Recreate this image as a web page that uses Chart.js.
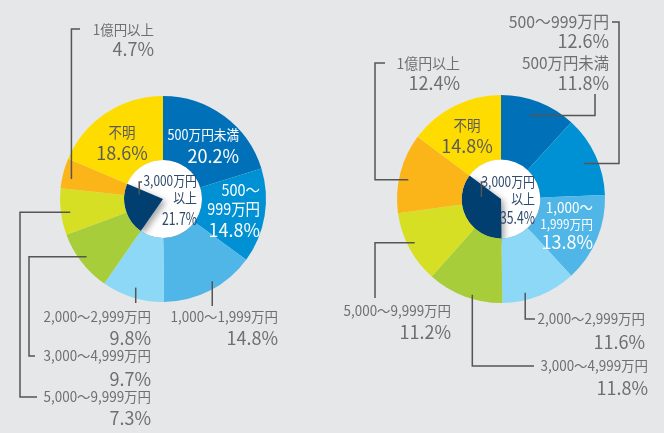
<!DOCTYPE html>
<html lang="ja">
<head>
<meta charset="utf-8">
<script src="https://cdn.jsdelivr.net/npm/chart.js@4"></script>
<style>
  html, body { margin: 0; padding: 0; background: #e6e7e9; }
  .wrap { position: absolute; top: 0; width: 332px; height: 433px; }
  #left { left: 0; }
  #right { left: 332px; }
</style>
</head>
<body>
<div class="wrap" id="left"><canvas id="chartLeft" width="332" height="433"></canvas></div>
<div class="wrap" id="right"><canvas id="chartRight" width="332" height="433"></canvas></div>
<script>
// ---- data ----
const categories = ["500万円未満", "500～999万円", "1,000～1,999万円", "2,000～2,999万円",
                    "3,000～4,999万円", "5,000～9,999万円", "1億円以上", "不明"];
const valuesLeft = [20.2, 14.8, 14.8, 9.8, 9.7, 7.3, 4.7, 18.6];
const valuesRight = [11.8, 12.6, 13.8, 11.6, 11.8, 11.2, 12.4, 14.8];
const over3000Name = ["3,000万円", "以上"];
const over3000Left = 21.7;
const over3000Right = 35.4;
const over3000From = 4; // first category counted in 3,000万円以上

const colors = ["#0071b9", "#0091d5", "#4fb6e7", "#8dd8f6", "#a7cd3a", "#d6df23", "#fbb519", "#ffdc00"];
const navy = "#003f70";
const white = "#ffffff";
const grayText = "#6f6f6f";
const hubText = "#2e4a6c";
const lineColor = "#555555";
const fontFam = '"Noto Sans CJK JP", "Noto Sans", sans-serif';

const pct = v => v.toFixed(1) + "%";

// label layout (positions only; text comes from the arrays above)
const layoutLeft = {
    padding: { left: 60, right: 66, top: 96, bottom: 131 },
    inside: [
        { i: 0, x: 239, align: "right", color: white, lines: [[categories[0], 135, 14]], pctY: 156 },
        { i: 1, x: 260, align: "right", color: white, lines: [["500～", 190, 16], ["999万円", 209, 16]], pctY: 230 },
        { i: 7, x: 122, align: "center", color: "#5b5b5b", lines: [[categories[7], 132, 15]], pctY: 153 }
    ],
    center: { x: 197, ys: [181, 198], pctY: 219, t: 0.84, rf: 0.62, path: [["v", 182], ["h", 142]] },
    outside: [
        { i: 6, x: 154, ys: [30, 49], size: 14, t: 0.37, rf: 0.91, path: [["v", 29], ["h", 80]] },
        { i: 5, x: 151, ys: [397, 418], size: 14, t: 0.46, rf: 0.91, path: [["h", 20], ["v", 397], ["h", 37]] },
        { i: 4, x: 151, ys: [356, 379], size: 14, t: 0.52, rf: 0.93, path: [["h", 29], ["v", 356], ["h", 35]] },
        { i: 3, x: 151, ys: [317, 338], size: 14, t: 0.5, rf: 0.9, path: [["v", 303]] },
        { i: 2, x: 278, ys: [317, 338], size: 14, t: 0.43, rf: 0.93, path: [["v", 306]] }
    ]
};

const layoutRight = {
    padding: { left: 65, right: 59, top: 95, bottom: 130 },
    inside: [
        { i: 7, x: 135, align: "center", color: "#5b5b5b", lines: [[categories[7], 125, 15]], pctY: 146 },
        { i: 2, x: 261, align: "right", color: white, lines: [["1,000～", 207, 15], ["1,999万円", 224, 13]], pctY: 242 }
    ],
    center: { x: 203, ys: [182, 199], pctY: 218, t: 0.76, rf: 0.5, path: [["v", 182], ["h", 153]] },
    outside: [
        { i: 1, x: 277, ys: [22, 41], size: 16.5, t: 0.54, rf: 0.87, path: [["h", 287], ["v", 22], ["h", 280]] },
        { i: 0, x: 277, ys: [63, 83], size: 16, t: 0.45, rf: 0.85, path: [["h", 263], ["v", 94]] },
        { i: 6, x: 128, ys: [63, 83], size: 14.5, t: 0.44, rf: 0.91, path: [["h", 43], ["v", 63], ["h", 53]] },
        { i: 3, x: 313, ys: [319, 342], size: 14, t: 0.67, rf: 0.93, path: [["v", 319], ["h", 203]] },
        { i: 4, x: 316, ys: [366, 388], size: 14, t: 0.41, rf: 0.96, path: [["v", 366], ["h", 202]] },
        { i: 5, x: 119, ys: [311, 332], size: 14, t: 0.53, rf: 0.93, path: [["h", 43], ["v", 298]] }
    ]
};

// point inside an arc element
function arcPoint(el, t, rf) {
    const a = el.startAngle + t * (el.endAngle - el.startAngle);
    const d = rf * el.outerRadius;
    return { x: el.x + d * Math.cos(a), y: el.y + d * Math.sin(a) };
}

function drawLeader(ctx, start, path) {
    ctx.beginPath();
    let x = start.x, y = start.y;
    ctx.moveTo(x, y);
    path.forEach(([dir, v]) => {
        if (dir === "h") x = v; else y = v;
        ctx.lineTo(x, y);
    });
    ctx.strokeStyle = lineColor;
    ctx.lineWidth = 1.5;
    ctx.stroke();
}

// text with a little horizontal squeeze (the original uses a narrow face)
function text(ctx, str, x, y, size, color, align, sx = 1) {
    ctx.save();
    ctx.font = size + "px " + fontFam;
    ctx.fillStyle = color;
    ctx.textAlign = align;
    ctx.textBaseline = "middle";
    ctx.translate(x, y);
    ctx.scale(sx, 1);
    ctx.fillText(str, 0, 0);
    ctx.restore();
}

// white hub with shadow under the inner ring
const hubShadow = {
    id: "hubShadow",
    beforeDatasetDraw(chart, args) {
        if (args.index !== 1) return;
        const el = chart.getDatasetMeta(1).data[0];
        const ctx = chart.ctx;
        ctx.save();
        ctx.shadowColor = "rgba(0,0,0,0.45)";
        ctx.shadowBlur = 9;
        ctx.shadowOffsetX = 3;
        ctx.shadowOffsetY = 3;
        ctx.beginPath();
        ctx.arc(el.x, el.y, el.outerRadius, 0, Math.PI * 2);
        ctx.fillStyle = white;
        ctx.fill();
        ctx.shadowColor = "rgba(0,0,0,0.35)";
        ctx.shadowBlur = 6;
    },
    afterDatasetDraw(chart, args) {
        if (args.index === 1) chart.ctx.restore();
    }
};

const labelPlugin = {
    id: "labels",
    afterDraw(chart) {
        const ctx = chart.ctx;
        const lay = chart.options.plugins.labels.layout;
        const vals = chart.options.plugins.labels.values;
        const outer = chart.getDatasetMeta(0).data;
        const hub = chart.getDatasetMeta(1).data[1];
        ctx.save();
        lay.inside.forEach(l => {
            l.lines.forEach(([s, y, size]) => text(ctx, s, l.x, y, size, l.color, l.align, 0.9));
            text(ctx, pct(vals[l.i]), l.x, l.pctY, 18, l.color, l.align);
        });
        const c = lay.center;
        drawLeader(ctx, arcPoint(hub, c.t, c.rf), c.path);
        text(ctx, over3000Name[0], c.x, c.ys[0], 14, hubText, "right", 0.85);
        text(ctx, over3000Name[1], c.x, c.ys[1], 14, hubText, "right", 0.85);
        text(ctx, pct(chart.options.plugins.labels.over), c.x, c.pctY, 17, hubText, "right", 0.72);
        lay.outside.forEach(l => {
            drawLeader(ctx, arcPoint(outer[l.i], l.t, l.rf), l.path);
            text(ctx, categories[l.i], l.x, l.ys[0], l.size, grayText, "right", 0.96);
            text(ctx, pct(vals[l.i]), l.x, l.ys[1], 18, grayText, "right");
        });
        ctx.restore();
    }
};

function makeChart(id, values, over, layout) {
    const before = values.slice(0, over3000From).reduce((a, b) => a + b, 0);
    const after = values.reduce((a, b) => a + b, 0) - before - over;
    new Chart(document.getElementById(id), {
        type: "doughnut",
        data: {
            labels: categories,
            datasets: [
                { data: values, backgroundColor: colors, borderWidth: 0, weight: 64 },
                { data: [before, over, after], backgroundColor: ["rgba(0,0,0,0)", navy, "rgba(0,0,0,0)"],
                  borderWidth: 0, weight: 39 }
            ]
        },
        options: {
            responsive: false,
            animation: false,
            cutout: 0,
            hoverOffset: 0,
            layout: { padding: layout.padding },
            plugins: {
                legend: { display: false },
                tooltip: { enabled: false },
                labels: { layout: layout, values: values, over: over }
            }
        },
        plugins: [hubShadow, labelPlugin]
    });
}

makeChart("chartLeft", valuesLeft, over3000Left, layoutLeft);
makeChart("chartRight", valuesRight, over3000Right, layoutRight);
</script>
</body>
</html>
